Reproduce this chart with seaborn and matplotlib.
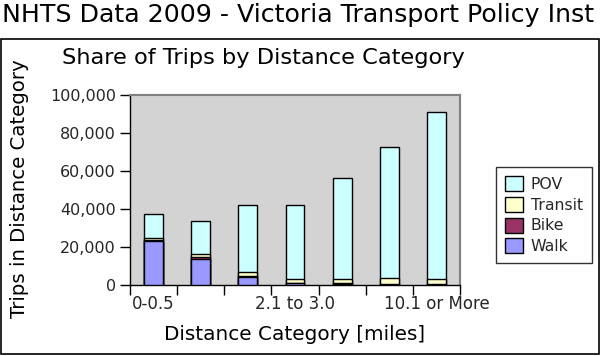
import matplotlib
matplotlib.use("Agg")
import matplotlib.pyplot as plt
from matplotlib.patches import Rectangle, Patch
from matplotlib.ticker import FuncFormatter
import seaborn as sns
import pandas as pd
import numpy as np

categories = ["0-0.5", "0.6 to 1.0", "1.1 to 2.0", "2.1 to 3.0",
              "3.1 to 5.0", "5.1 to 10.0", "10.1 or More"]
shown_labels = ["0-0.5", "", "", "2.1 to 3.0", "", "", "10.1 or More"]
walk = [23000, 13700, 4000, 900, 700, 200, 200]
bike = [900, 1000, 550, 200, 500, 150, 100]
transit = [600, 1400, 2150, 2050, 1950, 3350, 2850]
pov = [12700, 17400, 35200, 38750, 52950, 68800, 87750]

colors = {"POV": "#ccffff", "Transit": "#ffffcc", "Bike": "#993366", "Walk": "#9999ff"}

df = pd.DataFrame({"cat": categories, "Walk": walk, "Bike": bike,
                   "Transit": transit, "POV": pov})
df["c_walk"] = df["Walk"]
df["c_bike"] = df["c_walk"] + df["Bike"]
df["c_transit"] = df["c_bike"] + df["Transit"]
df["c_pov"] = df["c_transit"] + df["POV"]

sns.set_theme(style="white")
plt.rcParams["font.family"] = ["DejaVu Sans"]

W, H = 601, 356
fig = plt.figure(figsize=(W / 100, H / 100), dpi=100)
ax = fig.add_axes([130 / W, (H - 285) / H, (460 - 130) / W, (285 - 95) / H])
ax.set_facecolor("#d3d3d3")

for col, name in [("c_pov", "POV"), ("c_transit", "Transit"),
                  ("c_bike", "Bike"), ("c_walk", "Walk")]:
    sns.barplot(data=df, x="cat", y=col, color=colors[name], saturation=1,
                width=0.4, edgecolor="black", linewidth=1, ax=ax, zorder=3)

ax.set_xlim(-0.5, len(categories) - 0.5)
ax.set_ylim(0, 100000)
ax.set_yticks(np.arange(0, 100001, 20000))
ax.yaxis.set_major_formatter(FuncFormatter(lambda v, p: f"{int(v):,}"))
ax.tick_params(axis="y", which="major", length=7, width=1, color="black",
               labelsize=11.5, pad=3, left=True)
ax.set_xticks(range(len(categories)))
ax.set_xticklabels(shown_labels)
ax.set_xticks(np.arange(-0.5, len(categories), 1), minor=True)
ax.tick_params(axis="x", which="major", length=0, labelsize=12, pad=7)
ax.tick_params(axis="x", which="minor", length=7, width=1, color="black",
               bottom=True)

ax.set_xlabel("")
ax.set_ylabel("")
for s in ["left", "bottom"]:
    ax.spines[s].set_color("black")
    ax.spines[s].set_linewidth(1)
for s in ["top", "right"]:
    ax.spines[s].set_color("#808080")
    ax.spines[s].set_linewidth(1.5)

fig.text(2 / W, 1 - 3 / H, "NHTS Data 2009 - Victoria Transport Policy Inst",
         ha="left", va="top", fontsize=18.2, color="black")
fig.text(62 / W, 1 - 58 / H, "Share of Trips by Distance Category",
         ha="left", va="center", fontsize=16.2, color="black")
fig.text(295 / W, 1 - 335 / H, "Distance Category [miles]",
         ha="center", va="center", fontsize=14.4, color="black")
fig.text(20 / W, 1 - 189 / H, "Trips in Distance Category", rotation=90,
         ha="center", va="center", fontsize=14.2, color="black")

fig.add_artist(Rectangle((1 / W, 2 / H), 598 / W, (354 - 39) / H, fill=False,
                         edgecolor="black", linewidth=1.2,
                         transform=fig.transFigure))

handles = [Patch(facecolor=colors[n], edgecolor="black", label=n)
           for n in ["POV", "Transit", "Bike", "Walk"]]
leg = fig.legend(handles=handles, loc="upper left",
                 bbox_to_anchor=(496 / W, 1 - 167 / H), frameon=True,
                 fontsize=11.3, handlelength=1.1, handleheight=1.1,
                 handletextpad=0.5, labelspacing=0.3, borderpad=0.6,
                 fancybox=False, borderaxespad=0)
leg.get_frame().set_edgecolor("black")
leg.get_frame().set_linewidth(1)

fig.savefig("out.png", dpi=100)
